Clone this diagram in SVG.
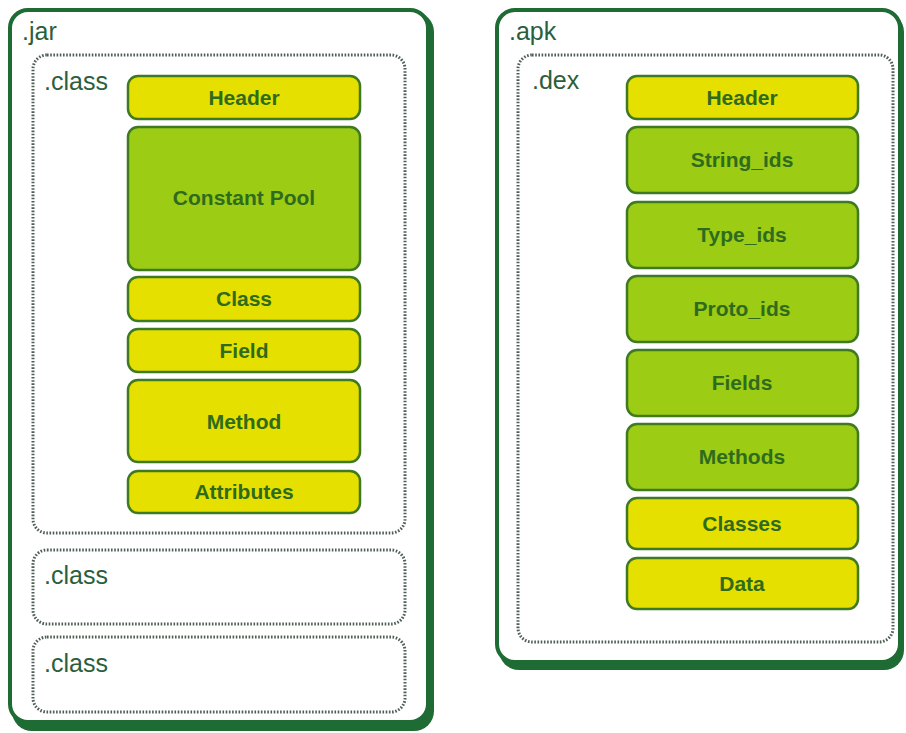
<svg xmlns="http://www.w3.org/2000/svg" width="906" height="733" viewBox="0 0 906 733">
<style>
.outer{fill:#fff;stroke:#1e6b34;stroke-width:4}
.shadow{fill:#1e6b34}
.dot{fill:none;stroke:#4f5f55;stroke-width:3;stroke-dasharray:1.6 1.6}
.y{fill:#e5e000;stroke:#3f7a22;stroke-width:2.5}
.g{fill:#9ccc14;stroke:#3f7a22;stroke-width:2.5}
.lbl{font-family:"Liberation Sans",Arial,sans-serif;font-size:25px;fill:#2b5e3c}
.t{font-family:"Liberation Sans",Arial,sans-serif;font-size:21px;font-weight:bold;fill:#2f6b1e;text-anchor:middle}
</style>
<rect width="906" height="733" fill="#fff"/>
<g id="jar">
<rect class="shadow" x="12" y="12" width="422" height="719" rx="20"/>
<rect class="outer" x="10" y="10" width="418" height="712" rx="18"/>
<text class="lbl" x="22" y="40">.jar</text>
</g>
<g id="class1">
<rect class="dot" x="33" y="55" width="372" height="478" rx="14"/>
<text class="lbl" x="44" y="90">.class</text>
</g>
<g id="class2">
<rect class="dot" x="33" y="550" width="372" height="74" rx="14"/>
<text class="lbl" x="44" y="584">.class</text>
</g>
<g id="class3">
<rect class="dot" x="33" y="637" width="372" height="75" rx="14"/>
<text class="lbl" x="44" y="672">.class</text>
</g>
<g id="j-header"><rect class="y" x="128" y="76" width="232" height="43" rx="10"/><text class="t" x="244" y="105">Header</text></g>
<g id="j-constpool"><rect class="g" x="128" y="127" width="232" height="143" rx="10"/><text class="t" x="244" y="205">Constant Pool</text></g>
<g id="j-class"><rect class="y" x="128" y="277" width="232" height="44" rx="10"/><text class="t" x="244" y="306">Class</text></g>
<g id="j-field"><rect class="y" x="128" y="329" width="232" height="43" rx="10"/><text class="t" x="244" y="358">Field</text></g>
<g id="j-method"><rect class="y" x="128" y="380" width="232" height="82" rx="10"/><text class="t" x="244" y="429">Method</text></g>
<g id="j-attributes"><rect class="y" x="128" y="471" width="232" height="42" rx="10"/><text class="t" x="244" y="499">Attributes</text></g>

<g id="apk">
<rect class="shadow" x="499" y="12" width="405" height="658" rx="20"/>
<rect class="outer" x="497" y="10" width="403" height="652" rx="18"/>
<text class="lbl" x="509" y="40">.apk</text>
</g>
<g id="dex">
<rect class="dot" x="518" y="55" width="375" height="587" rx="14"/>
<text class="lbl" x="532" y="89">.dex</text>
</g>
<g id="d-header"><rect class="y" x="627" y="76" width="231" height="43" rx="10"/><text class="t" x="742" y="105">Header</text></g>
<g id="d-string"><rect class="g" x="627" y="127" width="231" height="66" rx="10"/><text class="t" x="742" y="167">String_ids</text></g>
<g id="d-type"><rect class="g" x="627" y="202" width="231" height="66" rx="10"/><text class="t" x="742" y="242">Type_ids</text></g>
<g id="d-proto"><rect class="g" x="627" y="276" width="231" height="66" rx="10"/><text class="t" x="742" y="316">Proto_ids</text></g>
<g id="d-fields"><rect class="g" x="627" y="350" width="231" height="66" rx="10"/><text class="t" x="742" y="390">Fields</text></g>
<g id="d-methods"><rect class="g" x="627" y="424" width="231" height="66" rx="10"/><text class="t" x="742" y="464">Methods</text></g>
<g id="d-classes"><rect class="y" x="627" y="498" width="231" height="51" rx="10"/><text class="t" x="742" y="531">Classes</text></g>
<g id="d-data"><rect class="y" x="627" y="558" width="231" height="51" rx="10"/><text class="t" x="742" y="591">Data</text></g>
<g id="connectors"></g>
</svg>
